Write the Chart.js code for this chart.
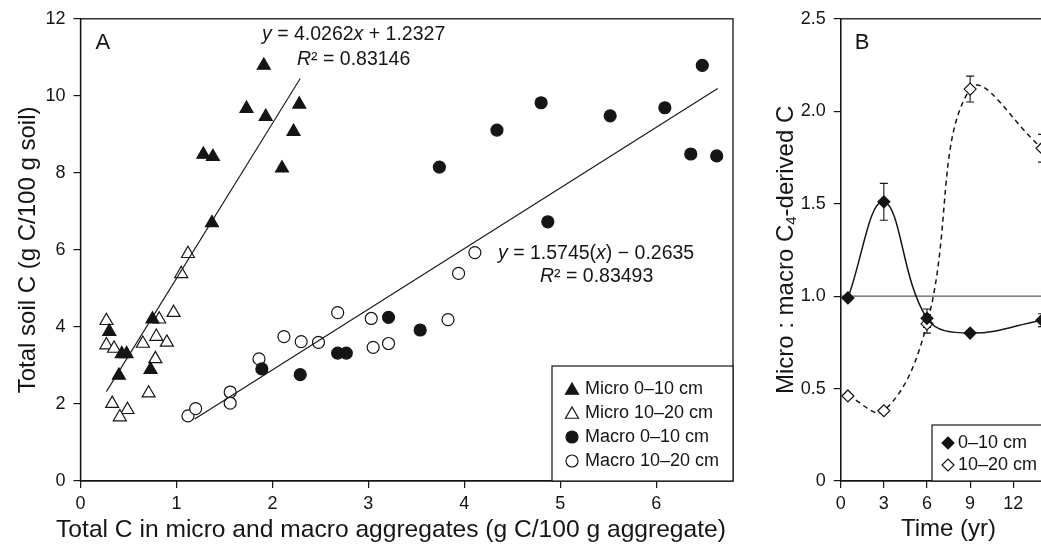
<!DOCTYPE html>
<html><head><meta charset="utf-8">
<script src="https://cdn.jsdelivr.net/npm/chart.js@4/dist/chart.umd.min.js"></script>
<style>
html,body{margin:0;padding:0;background:#fff;overflow:hidden;width:1041px;height:548px;position:relative}
#a{position:absolute;left:0;top:0}
#b{position:absolute;left:760px;top:0}
</style></head><body>
<canvas id="a" width="780" height="548"></canvas>
<canvas id="b" width="320" height="548"></canvas>
<script>
// ---------- Panel A data ----------
const microShallowX = [1.91,1.73,1.93,2.28,2.22,1.28,1.38,2.10,1.37,0.30,0.43,0.48,0.40,0.75,0.73];
const microShallowY = [10.79,9.67,9.46,9.78,9.07,8.48,8.42,8.12,6.70,3.88,3.30,3.30,2.74,4.20,2.89];
const microDeepX = [1.12,1.05,0.27,0.27,0.35,0.65,0.82,0.79,0.90,0.97,0.78,0.71,0.33,0.49,0.41];
const microDeepY = [5.90,5.38,4.16,3.53,3.44,3.57,4.20,3.75,3.60,4.37,3.17,2.28,2.01,1.85,1.66];
const macroShallowX = [1.89,2.29,2.68,2.77,3.21,3.54,3.74,4.34,4.80,4.87,5.52,6.09,6.48,6.36,6.63];
const macroShallowY = [2.91,2.76,3.32,3.32,4.25,3.92,8.15,9.11,9.82,6.73,9.48,9.69,10.79,8.49,8.44];
const macroDeepX = [1.12,1.20,1.56,1.56,1.86,2.12,2.30,2.48,2.68,3.03,3.05,3.21,3.83,3.94,4.11];
const macroDeepY = [1.69,1.88,2.31,2.02,3.17,3.75,3.62,3.60,4.37,4.22,3.47,3.57,4.19,5.39,5.93];
const fitMicroX = [0.27, 2.29];
const fitMicroY = [2.32, 10.45];
const fitMacroX = [1.19, 6.64];
const fitMacroY = [1.61, 10.19];
const legendA = ['Micro 0\u201310 cm','Micro 10\u201320 cm','Macro 0\u201310 cm','Macro 10\u201320 cm'];
const eqMicro = [['y',1],[' = 4.0262',0],['x',1],[' + 1.2327',0]];
const r2Micro = [['R',1],['\u00B2 = 0.83146',0]];
const eqMacro = [['y',1],[' = 1.5745(',0],['x',1],[') \u2212 0.2635',0]];
const r2Macro = [['R',1],['\u00B2 = 0.83493',0]];
const xTitleA = 'Total C in micro and macro aggregates (g C/100 g aggregate)';
const yTitleA = 'Total soil C (g C/100 g soil)';

// ---------- Panel B data ----------
const timeB = [0.5, 3, 6, 9, 14];
const ratioShallow = [0.99, 1.51, 0.88, 0.80, 0.87];
const errShallow = [0, 0.10, 0.05, 0, 0.035];
const ratioDeep = [0.46, 0.38, 0.85, 2.12, 1.80];
const errDeep = [0, 0, 0.05, 0.07, 0.075];
const refLineB = 1.0;
const ticksBLabels = ['0','0.5','1.0','1.5','2.0','2.5'];
const legendB = ['0\u201310 cm','10\u201320 cm'];

const FF = "'Liberation Sans', Arial, Helvetica, sans-serif";
const INK = '#151515';
Chart.defaults.font.family = FF;
Chart.defaults.color = INK;

const pts = (xs, ys) => xs.map((x, i) => ({x, y: ys[i]}));

function marker(ctx, style, x, y, r, filled) {
  ctx.save();
  ctx.beginPath();
  if (style === 'triangle') {
    for (let k = 0; k < 3; k++) {
      const a = -Math.PI/2 + k*2*Math.PI/3;
      const px = x + r*Math.cos(a), py = y + r*Math.sin(a);
      k ? ctx.lineTo(px, py) : ctx.moveTo(px, py);
    }
    ctx.closePath();
  } else if (style === 'circle') {
    ctx.arc(x, y, r, 0, Math.PI*2);
  } else {
    ctx.moveTo(x, y-r); ctx.lineTo(x+r, y); ctx.lineTo(x, y+r); ctx.lineTo(x-r, y); ctx.closePath();
  }
  ctx.fillStyle = filled ? INK : '#fff';
  ctx.strokeStyle = INK; ctx.lineWidth = 1.2;
  ctx.fill(); ctx.stroke();
  ctx.restore();
}

function rich(ctx, segs, x, y, size, center) {
  ctx.textBaseline = 'middle'; ctx.textAlign = 'left'; ctx.fillStyle = INK;
  let w = 0;
  for (const [t, it] of segs) { ctx.font = (it ? 'italic ' : '') + size + 'px ' + FF; w += ctx.measureText(t).width; }
  let cx = center ? x - w/2 : x;
  for (const [t, it] of segs) {
    ctx.font = (it ? 'italic ' : '') + size + 'px ' + FF;
    ctx.fillText(t, cx, y);
    cx += ctx.measureText(t).width;
  }
}

const panelAPlugin = {
  id: 'panelA',
  afterDraw(chart) {
    const {ctx, chartArea: a} = chart;
    ctx.save();
    ctx.strokeStyle = INK; ctx.lineWidth = 1.3;
    ctx.strokeRect(a.left, a.top, a.right - a.left, a.bottom - a.top);
    rich(ctx, [['A',0]], a.left + 15, a.top + 24, 22);
    rich(ctx, eqMicro, 262, 35, 19.5);
    rich(ctx, r2Micro, 297, 60, 19.5);
    rich(ctx, eqMacro, 498, 254, 19.5);
    rich(ctx, r2Macro, 540, 277, 19.5);
    // x-axis title
    rich(ctx, [[xTitleA,0]], 391, 530, 24.6, true);
    // legend box
    const lx = 552, ly = 366;
    ctx.fillStyle = '#fff';
    ctx.fillRect(lx, ly, a.right - lx, a.bottom - ly);
    ctx.strokeStyle = INK; ctx.lineWidth = 1.2;
    ctx.strokeRect(lx, ly, a.right - lx, a.bottom - ly);
    const styles = [['triangle',1,7.5],['triangle',0,7.5],['circle',1,6],['circle',0,6]];
    legendA.forEach((t, i) => {
      const yy = 389 + i*24;
      marker(ctx, styles[i][0], 572, yy + (styles[i][0]==='triangle'?1.5:0), styles[i][2], styles[i][1]);
      rich(ctx, [[t,0]], 585, yy, 18);
    });
    ctx.restore();
  }
};

const baseScale = (min, max, step) => ({
  type: 'linear', min, max,
  ticks: {stepSize: step, includeBounds: false, color: INK, font: {size: 18}, padding: 5},
  grid: {display: true, drawOnChartArea: false, drawTicks: true, tickLength: 7, color: INK, lineWidth: 1.2},
  border: {display: true, color: INK, width: 1.3}
});

const xA = baseScale(0, 6.8, 1);
xA.afterFit = s => { s.height = 67; };
const yA = baseScale(0, 12, 2);
yA.ticks.padding = 8;
yA.title = {display: true, text: yTitleA, font: {size: 24}, color: INK, padding: {top: 14, bottom: 0}};
yA.afterFit = s => { s.width = 80.5; };

new Chart(document.getElementById('a'), {
  type: 'scatter',
  data: {datasets: [
    {label: legendA[0], data: pts(microShallowX, microShallowY), pointStyle: 'triangle', pointRadius: 7.5, backgroundColor: INK, borderColor: INK, borderWidth: 1.2, order: 1},
    {label: legendA[1], data: pts(microDeepX, microDeepY), pointStyle: 'triangle', pointRadius: 7.5, backgroundColor: '#fff', borderColor: INK, borderWidth: 1.2, order: 1},
    {label: legendA[2], data: pts(macroShallowX, macroShallowY), pointStyle: 'circle', pointRadius: 6, backgroundColor: INK, borderColor: INK, borderWidth: 1.2, order: 1},
    {label: legendA[3], data: pts(macroDeepX, macroDeepY), pointStyle: 'circle', pointRadius: 6, backgroundColor: '#fff', borderColor: INK, borderWidth: 1.2, order: 1},
    {label: 'Micro fit', type: 'line', data: pts(fitMicroX, fitMicroY), borderColor: INK, borderWidth: 1.1, pointRadius: 0, fill: false, order: 0},
    {label: 'Macro fit', type: 'line', data: pts(fitMacroX, fitMacroY), borderColor: INK, borderWidth: 1.1, pointRadius: 0, fill: false, order: 0}
  ]},
  options: {
    responsive: false, animation: false, devicePixelRatio: 1,
    layout: {padding: {left: 0, right: 47, top: 17, bottom: 0}},
    scales: {x: xA, y: yA},
    plugins: {legend: {display: false}, tooltip: {enabled: false}}
  },
  plugins: [panelAPlugin]
});

// ---------- Panel B ----------
const panelBPlugin = {
  id: 'panelB',
  beforeDatasetsDraw(chart) {
    const {ctx, scales: {x, y}} = chart;
    ctx.save();
    ctx.strokeStyle = INK; ctx.lineWidth = 1.1;
    const bars = (vals, errs) => vals.forEach((v, i) => {
      if (!errs[i]) return;
      const px = x.getPixelForValue(timeB[i]);
      const y1 = y.getPixelForValue(v + errs[i]), y2 = y.getPixelForValue(v - errs[i]);
      ctx.beginPath();
      ctx.moveTo(px, y1); ctx.lineTo(px, y2);
      ctx.moveTo(px - 4, y1); ctx.lineTo(px + 4, y1);
      ctx.moveTo(px - 4, y2); ctx.lineTo(px + 4, y2);
      ctx.stroke();
    });
    bars(ratioShallow, errShallow);
    bars(ratioDeep, errDeep);
    ctx.restore();
  },
  afterDraw(chart) {
    const {ctx, chartArea: a} = chart;
    ctx.save();
    ctx.strokeStyle = INK; ctx.lineWidth = 1.3;
    ctx.strokeRect(a.left, a.top, a.right - a.left, a.bottom - a.top);
    rich(ctx, [['B',0]], a.left + 14, a.top + 24, 22);
    // legend
    const lx = 932 - 760, ly = 425;
    ctx.fillStyle = '#fff';
    ctx.fillRect(lx, ly, a.right - lx, a.bottom - ly);
    ctx.strokeStyle = INK; ctx.lineWidth = 1.2;
    ctx.strokeRect(lx, ly, a.right - lx, a.bottom - ly);
    legendB.forEach((t, i) => {
      const yy = 443 + i*22;
      marker(ctx, 'diamond', 948 - 760, yy, 6, i === 0);
      rich(ctx, [[t,0]], 958 - 760, yy, 18);
    });
    // y title with subscript
    ctx.save();
    ctx.translate(26, (a.top + a.bottom)/2);
    ctx.rotate(-Math.PI/2);
    ctx.textBaseline = 'middle'; ctx.fillStyle = INK;
    const size = 24;
    const parts = [['Micro : macro C', size, 0], ['4', 15, 6], ['-derived C', size, 0]];
    let w = 0;
    parts.forEach(([t, s]) => { ctx.font = s + 'px ' + FF; w += ctx.measureText(t).width; });
    let cx = -w/2;
    parts.forEach(([t, s, dy]) => { ctx.font = s + 'px ' + FF; ctx.textAlign = 'left'; ctx.fillText(t, cx, dy); cx += ctx.measureText(t).width; });
    ctx.restore();
    ctx.restore();
  }
};

const xB = baseScale(0, 15, 3);
xB.title = {display: true, text: 'Time (yr)', font: {size: 24}, color: INK, padding: {top: 0, bottom: 4}};
xB.afterFit = s => { s.height = 67; };
const yB = baseScale(0, 2.5, 0.5);
yB.ticks.padding = 8;
yB.ticks.callback = (v, i) => ticksBLabels[i];
yB.afterFit = s => { s.width = 80.7; };

new Chart(document.getElementById('b'), {
  type: 'line',
  data: {datasets: [
    {label: 'ref', data: [{x: 0, y: refLineB}, {x: 15, y: refLineB}], borderColor: '#333', borderWidth: 1, pointRadius: 0, tension: 0, order: 3},
    {label: legendB[0], data: pts(timeB, ratioShallow), borderColor: INK, borderWidth: 1.5, tension: 0.4, pointStyle: 'rectRot', pointRadius: 6, pointBackgroundColor: INK, pointBorderColor: INK, pointBorderWidth: 1.2, order: 1},
    {label: legendB[1], data: pts(timeB, ratioDeep), borderColor: INK, borderWidth: 1.5, borderDash: [5, 4], tension: 0.4, pointStyle: 'rectRot', pointRadius: 6, pointBackgroundColor: '#fff', pointBorderColor: INK, pointBorderWidth: 1.2, order: 2}
  ]},
  options: {
    responsive: false, animation: false, devicePixelRatio: 1,
    layout: {padding: {left: 0, right: 23.6, top: 17, bottom: 0}},
    scales: {x: xB, y: yB},
    plugins: {legend: {display: false}, tooltip: {enabled: false}}
  },
  plugins: [panelBPlugin]
});
</script>
</body></html>
